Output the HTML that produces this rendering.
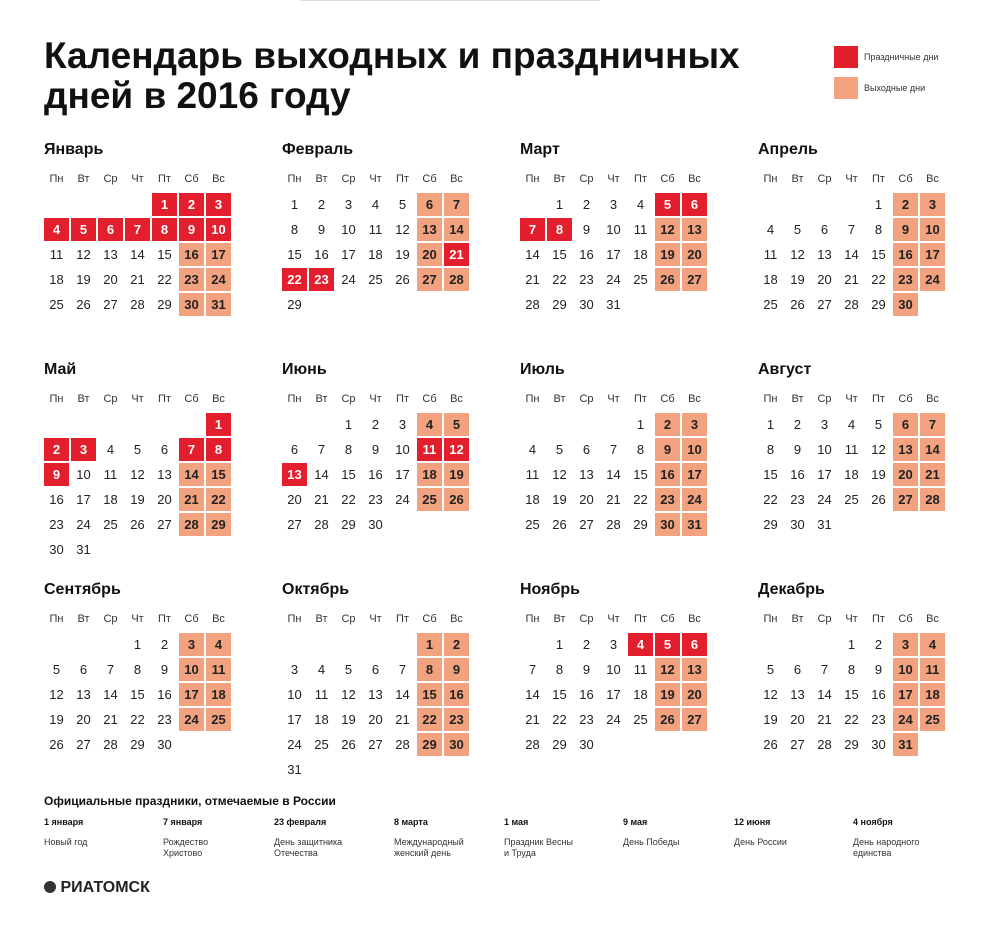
<!DOCTYPE html>
<html><head><meta charset="utf-8"><style>
body{margin:0;width:1000px;height:925px;background:#fff;font-family:"Liberation Sans","DejaVu Sans",sans-serif;color:#222;position:relative;overflow:hidden}
.a{position:absolute;white-space:nowrap}
.t{font-size:37px;font-weight:bold;left:44px;line-height:40px;color:#111}
.m{font-size:16px;font-weight:bold;color:#111}
.h{font-size:11px;color:#333;width:25px;text-align:center}
.d{width:25px;height:23px;line-height:23px;text-align:center;font-size:13px;color:#222}
.r{background:#e31e2d;color:#fff;font-weight:bold}
.o{background:#f2a27f;color:#222;font-weight:bold}
.s{font-size:9px;color:#333}
.sd{font-size:9px;font-weight:bold;color:#111}
</style></head><body>
<div class="a" style="left:300px;top:0;width:300px;height:1px;background:#ddd"></div>
<div class="a t" style="top:36px">Календарь выходных и праздничных</div>
<div class="a t" style="top:76px">дней в 2016 году</div>
<div class="a" style="left:834px;top:46px;width:24px;height:22px;background:#e31e2d"></div>
<div class="a s" style="left:864px;top:52px">Праздничные дни</div>
<div class="a" style="left:834px;top:77px;width:24px;height:22px;background:#f2a27f"></div>
<div class="a s" style="left:864px;top:83px">Выходные дни</div>
<div id="c"></div>
<div class="a" style="left:44px;top:794px;font-size:12px;font-weight:bold;color:#111">Официальные праздники, отмечаемые в России</div>
<div id="f"></div>
<div class="a" style="left:44px;top:879px;font-size:16px;font-weight:bold;color:#222"><span style="display:inline-block;width:12px;height:12px;border-radius:50%;background:#333;vertical-align:-1px"></span> РИАТОМСК</div>
<script>
var names=["Январь","Февраль","Март","Апрель","Май","Июнь","Июль","Август","Сентябрь","Октябрь","Ноябрь","Декабрь"];
var start=[4,0,1,4,6,2,4,0,3,5,1,3],len=[31,29,31,30,31,30,31,31,30,31,30,31];
var red={0:[1,2,3,4,5,6,7,8,9,10],1:[21,22,23],2:[5,6,7,8],4:[1,2,3,7,8,9],5:[11,12,13],10:[4,5,6]};
var wd=["Пн","Вт","Ср","Чт","Пт","Сб","Вс"],h="";
for(var m=0;m<12;m++){var ox=44+238*(m%4),oy=220*Math.floor(m/4);
h+='<div class="a m" style="left:'+ox+'px;top:'+(141+oy)+'px">'+names[m]+'</div>';
for(var k=0;k<7;k++)h+='<div class="a h" style="left:'+(ox+27*k)+'px;top:'+(173+oy)+'px">'+wd[k]+'</div>';
for(var d=1;d<=len[m];d++){var p=start[m]+d-1,c=p%7,r=Math.floor(p/7);
var cl=(red[m]&&red[m].indexOf(d)>=0)?' r':(c>=5?' o':'');
h+='<div class="a d'+cl+'" style="left:'+(ox+27*c)+'px;top:'+(193+oy+25*r)+'px">'+d+'</div>';}}
document.getElementById('c').innerHTML=h;
var fx=[44,163,274,394,504,623,734,853],fd=["1 января","7 января","23 февраля","8 марта","1 мая","9 мая","12 июня","4 ноября"],
fn=["Новый год","Рождество<br>Христово","День защитника<br>Отечества","Международный<br>женский день","Праздник Весны<br>и Труда","День Победы","День России","День народного<br>единства"],g="";
for(var i=0;i<8;i++){g+='<div class="a sd" style="left:'+fx[i]+'px;top:817px">'+fd[i]+'</div><div class="a s" style="left:'+fx[i]+'px;top:837px;line-height:11px">'+fn[i]+'</div>';}
document.getElementById('f').innerHTML=g;
</script>
</body></html>
